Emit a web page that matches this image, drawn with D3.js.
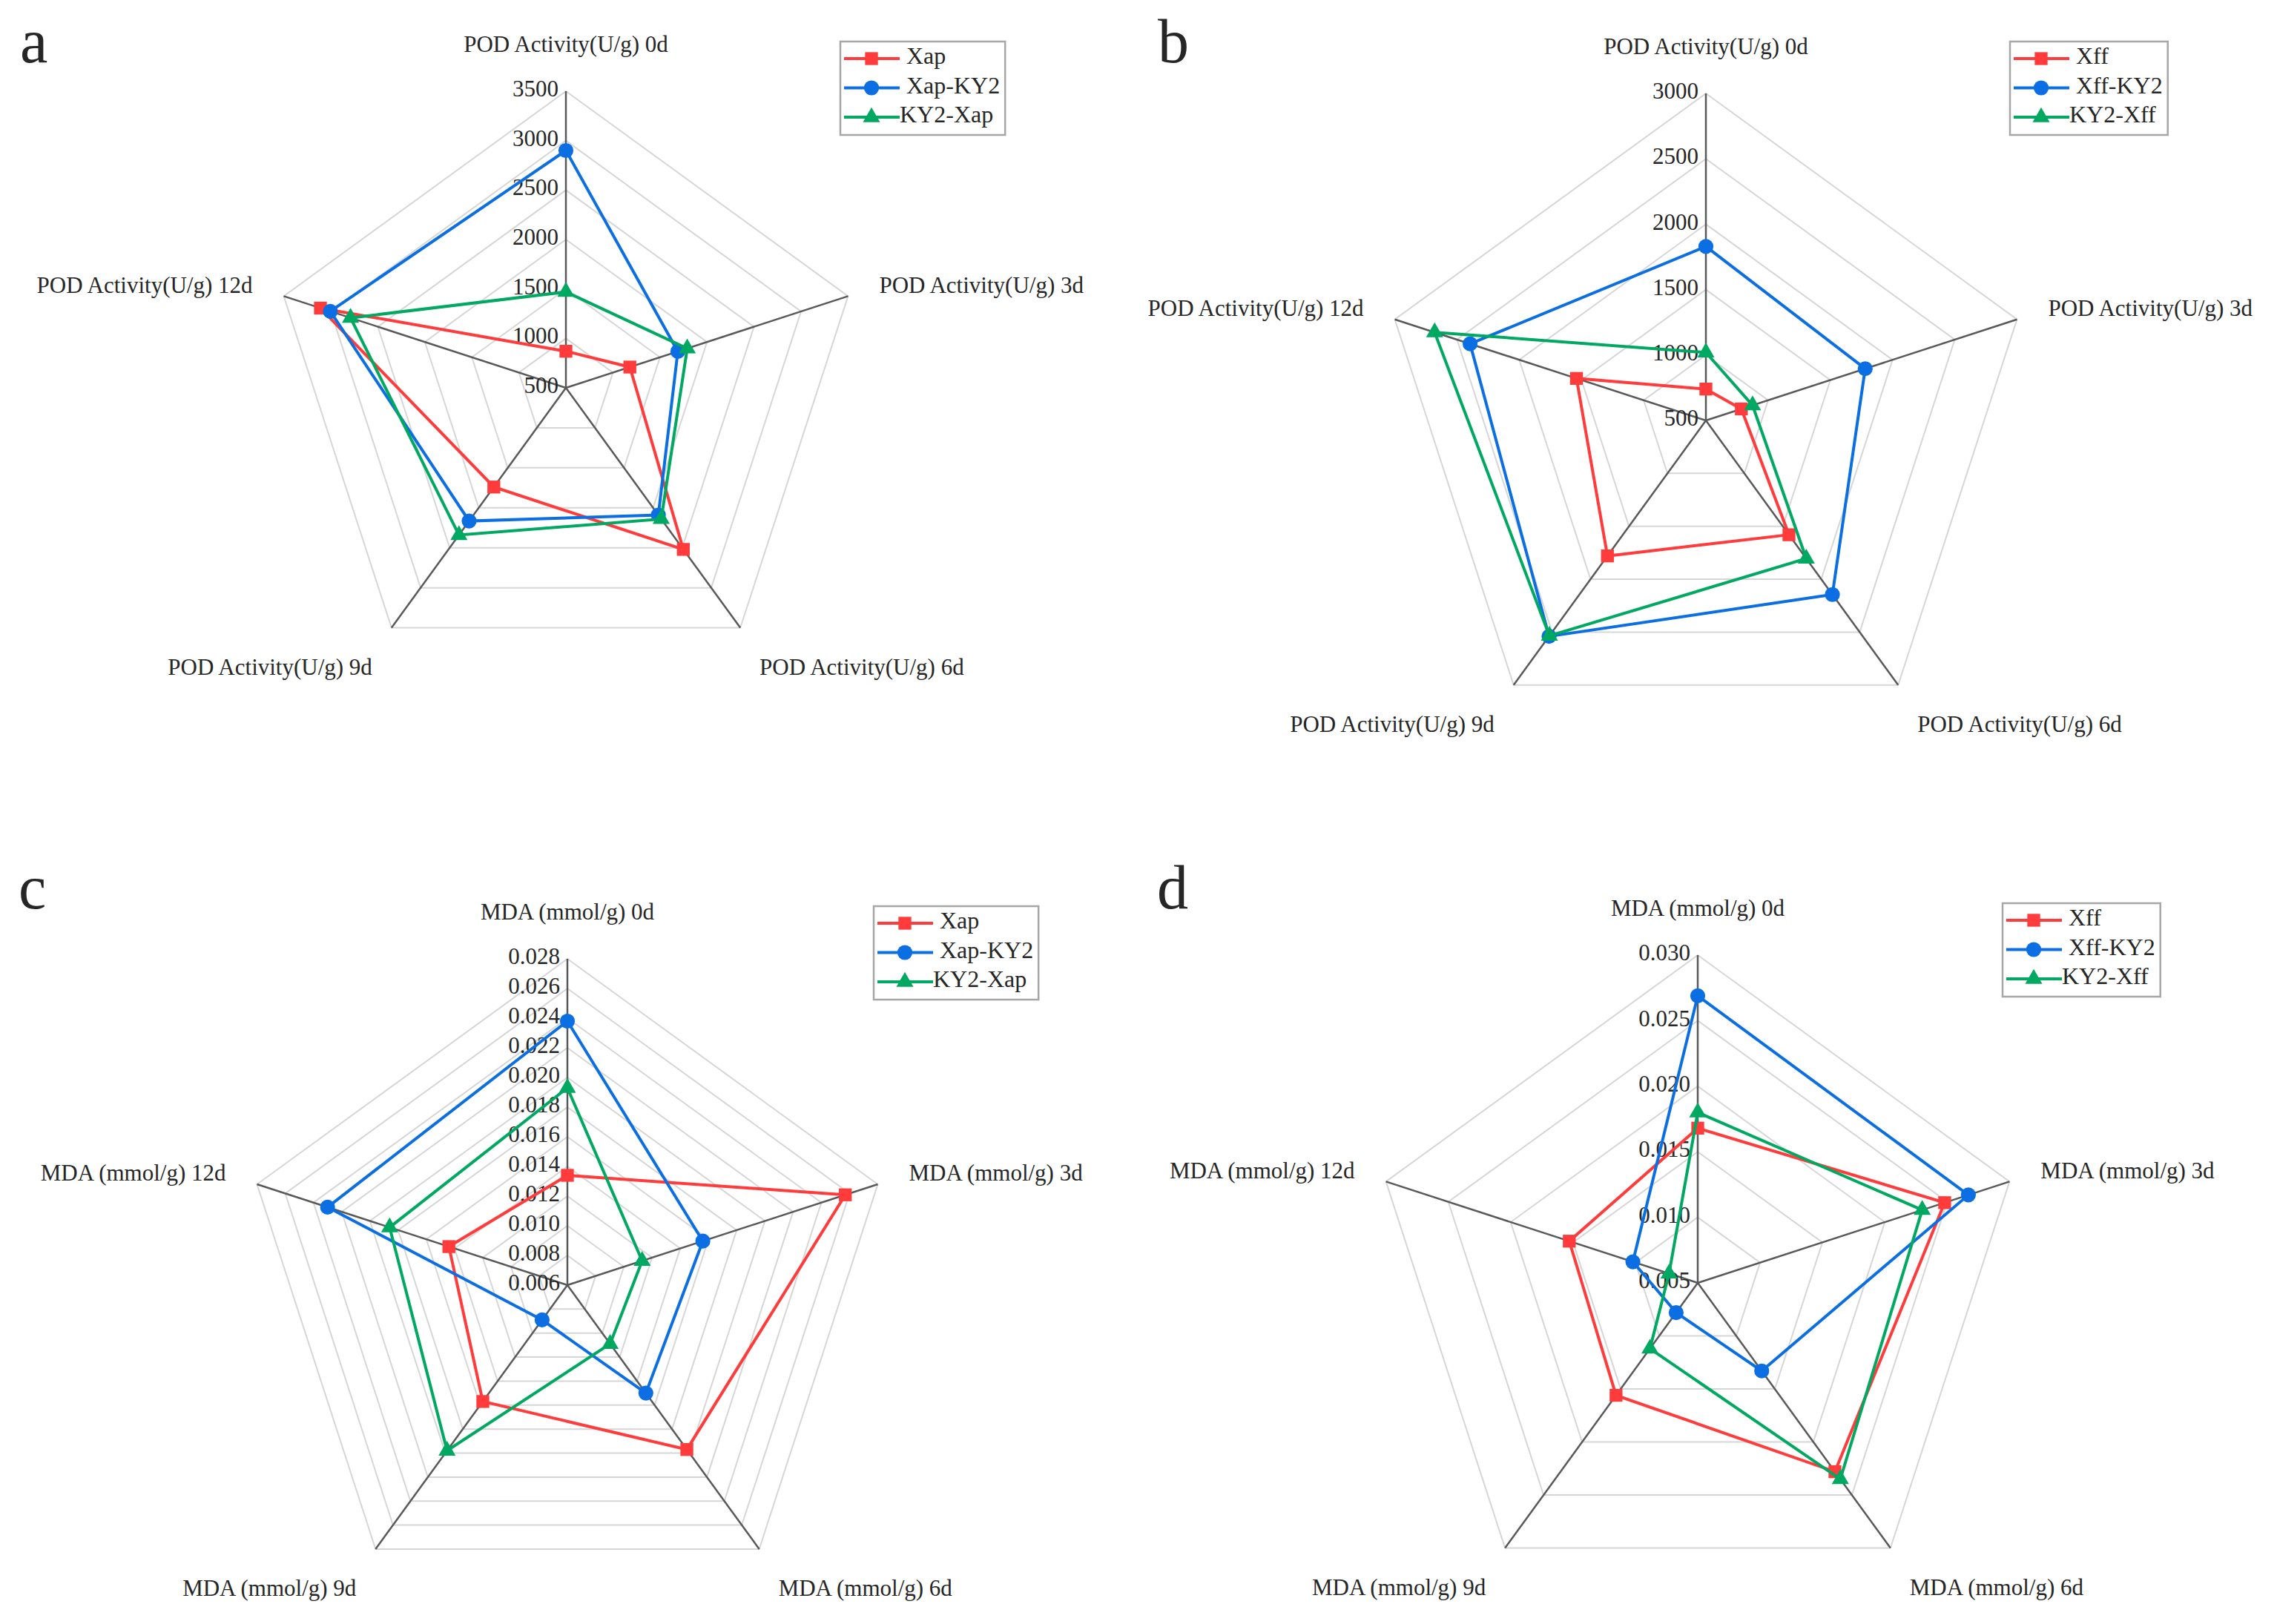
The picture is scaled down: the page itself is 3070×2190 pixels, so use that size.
<!DOCTYPE html>
<html>
<head>
<meta charset="utf-8">
<script src="https://cdn.jsdelivr.net/npm/d3@7"></script>
<style>
  body { margin: 0; background: #fff; }
  text { font-family: "Liberation Serif", "Times New Roman", serif; fill: #262626; }
</style>
</head>
<body>
<div id="chart"></div>
<script>
// Axis names (days of storage)
const days = ["0d", "3d", "6d", "9d", "12d"];

// Tick labels of each radar
const podTicksA = [500, 1000, 1500, 2000, 2500, 3000, 3500];
const podTicksB = [500, 1000, 1500, 2000, 2500, 3000];
const mdaTicksC = [0.006, 0.008, 0.010, 0.012, 0.014, 0.016, 0.018, 0.020, 0.022, 0.024, 0.026, 0.028];
const mdaTicksD = [0.005, 0.010, 0.015, 0.020, 0.025, 0.030];

// Series names
const namesXap = ["Xap", "Xap-KY2", "KY2-Xap"];
const namesXff = ["Xff", "Xff-KY2", "KY2-Xff"];

// POD activity (U/g)
const xapPod = [870, 1180, 2520, 1740, 3110];
const xapKy2Pod = [2900, 1690, 2090, 2165, 3005];
const ky2XapPod = [1470, 1790, 2140, 2340, 2790];
const xffPod = [740, 785, 1580, 1780, 1540];
const xffKy2Pod = [1830, 1780, 2145, 2540, 2395];
const ky2XffPod = [1020, 875, 1805, 2535, 2680];

// MDA (mmol/g)
const xapMda = [0.0134, 0.0257, 0.0197, 0.0157, 0.0144];
const xapKy2Mda = [0.0238, 0.0156, 0.0150, 0.0089, 0.0230];
const ky2XapMda = [0.0193, 0.0113, 0.0109, 0.0198, 0.0186];
const xffMda = [0.0168, 0.0248, 0.0228, 0.0156, 0.0153];
const xffKy2Mda = [0.0269, 0.0267, 0.0133, 0.0078, 0.0102];
const ky2XffMda = [0.0180, 0.0230, 0.0235, 0.0112, 0.0073];

const colors = ["#ff3b3b", "#0b6fe3", "#00a862"];
const shapes = [d3.symbolSquare, d3.symbolCircle, d3.symbolTriangle];
const shapeSize = [300, 320, 230];

const W = 3070;
const H = 2190;

// Panel layout
const panels = [
  { letter: "a", prefix: "POD Activity(U/g) ", cx: 763, cy: 523, r: 400, ticks: podTicksA, fmt: d3.format("d"),
    names: namesXap, values: [xapPod, xapKy2Pod, ky2XapPod], legend: [1133, 56], lpos: [27, 84] },
  { letter: "b", prefix: "POD Activity(U/g) ", cx: 2300, cy: 567, r: 441, ticks: podTicksB, fmt: d3.format("d"),
    names: namesXff, values: [xffPod, xffKy2Pod, ky2XffPod], legend: [2710, 56], lpos: [1561, 84] },
  { letter: "c", prefix: "MDA (mmol/g) ", cx: 765, cy: 1733, r: 440, ticks: mdaTicksC, fmt: d3.format(".3f"),
    names: namesXap, values: [xapMda, xapKy2Mda, ky2XapMda], legend: [1178, 1222], lpos: [25, 1225] },
  { letter: "d", prefix: "MDA (mmol/g) ", cx: 2289, cy: 1730, r: 442, ticks: mdaTicksD, fmt: d3.format(".3f"),
    names: namesXff, values: [xffMda, xffKy2Mda, ky2XffMda], legend: [2700, 1218], lpos: [1560, 1225] },
];

const svg = d3
  .select("#chart")
  .append("svg")
  .attr("width", W)
  .attr("height", H)
  .style("background", "#fff");

panels.forEach((p) => {
  const g = svg.append("g");
  const rScale = d3
    .scaleLinear()
    .domain([p.ticks[0], p.ticks[p.ticks.length - 1]])
    .range([0, p.r]);

  // angle of axis i, first one points up
  const ang = (i) => ((-90 + 72 * i) * Math.PI) / 180;
  const pt = (i, v) => [
    p.cx + rScale(v) * Math.cos(ang(i)),
    p.cy + rScale(v) * Math.sin(ang(i)),
  ];

  // Grid rings
  g.append("g")
    .selectAll("polygon")
    .data(p.ticks.slice(1))
    .enter()
    .append("polygon")
    .attr("points", (t) => days.map((d, i) => pt(i, t).join(",")).join(" "))
    .attr("fill", "none")
    .attr("stroke", "#d6d6d6")
    .attr("stroke-width", 2);

  // Spokes
  const maxT = p.ticks[p.ticks.length - 1];
  g.append("g")
    .selectAll("line")
    .data(days)
    .enter()
    .append("line")
    .attr("x1", p.cx)
    .attr("y1", p.cy)
    .attr("x2", (d, i) => pt(i, maxT)[0])
    .attr("y2", (d, i) => pt(i, maxT)[1])
    .attr("stroke", "#595959")
    .attr("stroke-width", 2.5);

  // Tick labels along the top spoke
  g.append("g")
    .selectAll("text")
    .data(p.ticks)
    .enter()
    .append("text")
    .attr("x", p.cx - 10)
    .attr("y", (t) => p.cy - rScale(t))
    .attr("text-anchor", "end")
    .attr("dominant-baseline", "middle")
    .attr("font-size", 31)
    .text((t) => p.fmt(t));

  // Axis labels
  g.append("g")
    .selectAll("text")
    .data(days)
    .enter()
    .append("text")
    .attr("font-size", 31)
    .each(function (d, i) {
      const [vx, vy] = pt(i, maxT);
      const t = d3.select(this);
      if (i === 0) {
        t.attr("x", vx).attr("y", vy - 53).attr("text-anchor", "middle");
      } else if (i === 1) {
        t.attr("x", vx + 42).attr("y", vy - 12).attr("dominant-baseline", "middle");
      } else if (i === 4) {
        t.attr("x", vx - 42).attr("y", vy - 12).attr("dominant-baseline", "middle").attr("text-anchor", "end");
      } else if (i === 2) {
        t.attr("x", vx + 26).attr("y", vy + 63);
      } else {
        t.attr("x", vx - 26).attr("y", vy + 63).attr("text-anchor", "end");
      }
    })
    .text((d) => p.prefix + d);

  // Series lines and markers
  p.values.forEach((vals, s) => {
    const pts = vals.map((v, i) => pt(i, v));
    g.append("path")
      .attr("d", d3.line().curve(d3.curveLinearClosed)(pts))
      .attr("fill", "none")
      .attr("stroke", colors[s])
      .attr("stroke-width", 4);
    g.append("g")
      .selectAll("path")
      .data(pts)
      .enter()
      .append("path")
      .attr("d", d3.symbol().type(shapes[s]).size(shapeSize[s]))
      .attr("transform", (d) => `translate(${d[0]},${d[1]})`)
      .attr("fill", colors[s]);
  });

  // Legend
  const [lx, ly] = p.legend;
  const leg = g.append("g");
  const box = leg
    .append("rect")
    .attr("x", lx)
    .attr("y", ly)
    .attr("height", 126)
    .attr("fill", "#fff")
    .attr("stroke", "#a6a6a6")
    .attr("stroke-width", 2.5);
  let maxRight = 0;
  p.names.forEach((name, s) => {
    const yy = ly + 23 + 39.5 * s;
    leg.append("line")
      .attr("x1", lx + 5)
      .attr("x2", lx + 80)
      .attr("y1", yy)
      .attr("y2", yy)
      .attr("stroke", colors[s])
      .attr("stroke-width", 4);
    leg.append("path")
      .attr("d", d3.symbol().type(shapes[s]).size(shapeSize[s]))
      .attr("transform", `translate(${lx + 42},${yy})`)
      .attr("fill", colors[s]);
    const txt = leg.append("text")
      .attr("x", s === 2 ? lx + 80 : lx + 89)
      .attr("y", yy)
      .attr("dominant-baseline", "middle")
      .attr("font-size", 32)
      .text(name);
    const right = (s === 2 ? 80 : 89) + txt.node().getComputedTextLength();
    maxRight = Math.max(maxRight, right);
  });
  box.attr("width", maxRight + 7);

  // Panel letter
  g.append("text")
    .attr("x", p.lpos[0])
    .attr("y", p.lpos[1])
    .attr("font-size", 84)
    .attr("fill", "#333")
    .text(p.letter);
});
</script>
</body>
</html>
